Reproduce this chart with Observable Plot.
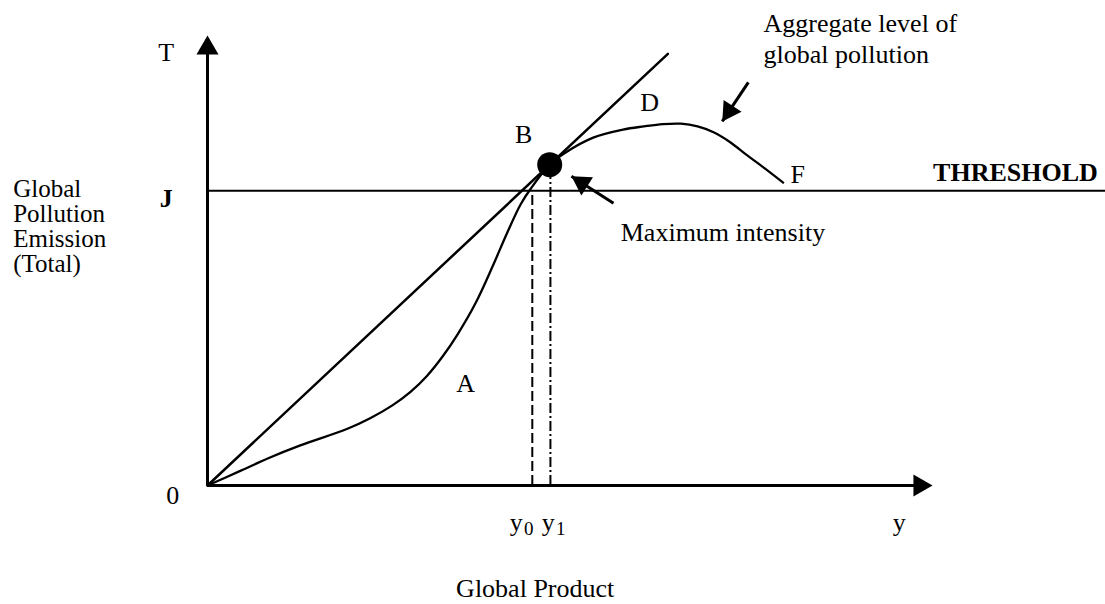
<!DOCTYPE html>
<html>
<head>
<meta charset="utf-8">
<script src="https://cdn.jsdelivr.net/npm/d3@7"></script>
<script src="https://cdn.jsdelivr.net/npm/@observablehq/plot@0.6"></script>
<style>
  html, body { margin: 0; padding: 0; background: #fff; }
  #chart svg { display: block; }
</style>
</head>
<body>
<div id="chart"></div>
<script>
// ---- data (abstract units: x = global product, y = total emission) ----
const curveX = [0, 4.6, 8.3, 12.8, 19.3, 22.5, 25.5, 28.0, 30.3, 32.4, 34.5, 37.0, 39.3, 41.4, 43.2, 44.6, 47.2, 49.4, 53.2, 57.3, 60.2, 62.8, 65.3, 67.6, 69.8, 72.0, 74.5, 77.0, 79.4];
const curveY = [0, 3.3, 6.0, 8.9, 12.6, 15.0, 17.8, 20.8, 24.4, 28.6, 33.6, 40.6, 48.6, 56.4, 62.5, 66.0, 71.3, 74.0, 77.3, 79.1, 79.8, 80.3, 80.4, 79.8, 78.5, 76.4, 73.3, 70.3, 67.3];
const rayX = [0, 63.5];
const rayY = [0, 95.9];
const J = 65.5;          // threshold level
const y0 = 44.8;         // product where the curve meets the threshold
const y1 = 47.3;         // product at maximum intensity
const Bpoint = {x: 47.2, y: 71.3};
const axisEnd = 100;
const thresholdEnd = 124;

// annotation arrows: tail -> tip
const arrowAggregate = {x1: 74.6, y1: 89.6, x2: 71.0, y2: 80.9, rot: 213.6};
const arrowMaximum = {x1: 56.0, y1: 62.7, x2: 50.2, y2: 68.7, rot: -57.3};

// labels (x, baseline y)
const middleLabels = [
  {text: "A", x: 35.6, y: 20.7},
  {text: "B", x: 43.6, y: 76.2},
  {text: "D", x: 61.0, y: 83.3},
  {text: "F", x: 81.4, y: 67.3},
  {text: "T", x: -5.7, y: 94.4},
  {text: "0", x: -4.8, y: -4.2},
  {text: "y", x: 95.4, y: -10.2},
  {text: "Global Product", x: 45.2, y: -24.7}
];
const startLabels = [
  {text: "Maximum intensity", x: 57.0, y: 54.4},
  {text: "Aggregate level of", x: 76.7, y: 100.7},
  {text: "global pollution", x: 76.7, y: 94.0}
];
const boldMiddle = [{text: "J", x: -5.7, y: 62.0}];
const boldEnd = [{text: "THRESHOLD", x: 122.8, y: 67.6}];
const yTitle = "Global\nPollution\nEmission\n(Total)";
const tickLabels = [{x: 42.6, main: "y", sub: "0"}, {x: 47.0, main: "y", sub: "1"}];

const curve = curveX.map((x, i) => ({x, y: curveY[i]}));
const ray = rayX.map((x, i) => ({x, y: rayY[i]}));

const font = "Liberation Serif, Times New Roman, serif";
const txt = {fill: "black", fontSize: 26, lineAnchor: "bottom"};

const chart = Plot.plot({
  width: 1105,
  height: 604,
  margin: 0,
  x: {domain: [0, 100], range: [207, 932], axis: null},
  y: {domain: [0, 100], range: [485, 35], axis: null},
  style: {fontFamily: font, background: "white", color: "black"},
  marks: [
    // threshold
    Plot.ruleY([J], {x1: 0, x2: thresholdEnd, stroke: "black", strokeWidth: 2}),
    // dashed guides
    Plot.ruleX([{x: y0, top: J}], {x: "x", y1: 0, y2: "top", stroke: "black", strokeWidth: 2, strokeDasharray: "10,4"}),
    Plot.ruleX([{x: y1, top: Bpoint.y}], {x: "x", y1: 0, y2: "top", stroke: "black", strokeWidth: 2, strokeDasharray: "10,3,2,3"}),
    // axes
    Plot.ruleX([0], {y1: 0, y2: axisEnd - 3, stroke: "black", strokeWidth: 3}),
    Plot.ruleY([0], {x1: 0, x2: axisEnd - 2, stroke: "black", strokeWidth: 3}),
    Plot.dot([{x: 0, y: axisEnd}], {x: "x", y: "y", symbol: "triangle", r: 8.2, dy: 12.7, fill: "black", stroke: "none"}),
    Plot.dot([{x: axisEnd, y: 0}], {x: "x", y: "y", symbol: "triangle", r: 8.2, dx: -12.7, rotate: 90, fill: "black", stroke: "none"}),
    // ray and curve
    Plot.line(ray, {x: "x", y: "y", stroke: "black", strokeWidth: 2.5}),
    Plot.line(curve, {x: "x", y: "y", curve: "catmull-rom", stroke: "black", strokeWidth: 2.3}),
    // point B
    Plot.dot([Bpoint], {x: "x", y: "y", r: 12.5, fill: "black", stroke: "none"}),
    // annotation arrows
    Plot.link([arrowAggregate, arrowMaximum], {x1: "x1", y1: "y1", x2: "x2", y2: "y2", stroke: "black", strokeWidth: 3}),
    Plot.dot([arrowAggregate], {x: "x2", y: "y2", symbol: "triangle", r: 8, rotate: "rot", dx: 6.9, dy: -10.4, fill: "black", stroke: "none"}),
    Plot.dot([arrowMaximum], {x: "x2", y: "y2", symbol: "triangle", r: 8, rotate: "rot", dx: 10.5, dy: 6.7, fill: "black", stroke: "none"}),
    // labels
    Plot.text(middleLabels, {x: "x", y: "y", text: "text", textAnchor: "middle", ...txt}),
    Plot.text(startLabels, {x: "x", y: "y", text: "text", textAnchor: "start", ...txt}),
    Plot.text(boldMiddle, {x: "x", y: "y", text: "text", textAnchor: "middle", fontWeight: "bold", ...txt}),
    Plot.text(boldEnd, {x: "x", y: "y", text: "text", textAnchor: "end", fontWeight: "bold", ...txt}),
    Plot.text([yTitle], {x: -26.8, y: 68.1, text: d => d, textAnchor: "start", lineAnchor: "top", lineHeight: 1.0,
      fontSize: 25, fill: "black"}),
    // x tick labels y0, y1 with subscripts
    Plot.text(tickLabels, {x: "x", y: -10.2, text: "main", textAnchor: "middle", ...txt}),
    Plot.text(tickLabels, {x: "x", y: -11.0, text: "sub", dx: 12.5, textAnchor: "middle", ...txt, fontSize: 19})
  ]
});
document.getElementById("chart").appendChild(chart);
</script>
</body>
</html>
